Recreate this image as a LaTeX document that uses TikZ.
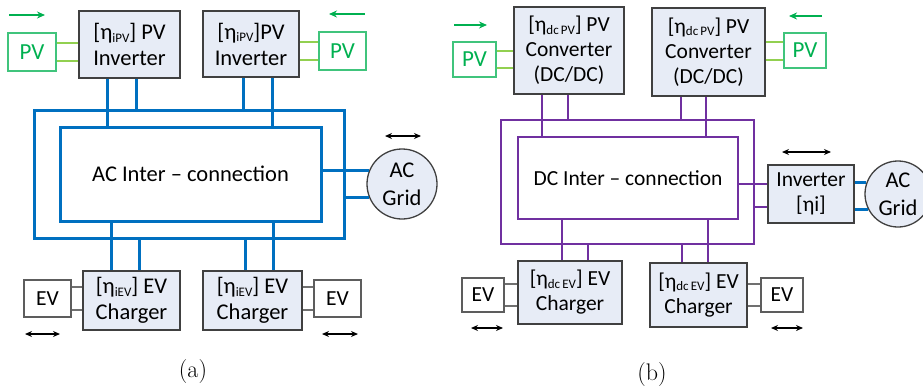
\documentclass[tikz,border=0pt]{standalone}
\usepackage{fontspec}
\newfontfamily\carlito{Carlito}
\usetikzlibrary{arrows.meta}
\definecolor{acblue}{RGB}{0,112,192}
\definecolor{dcpurple}{RGB}{112,48,160}
\definecolor{pvgreen}{RGB}{0,176,80}
\definecolor{pvline}{RGB}{146,208,80}
\definecolor{boxfill}{RGB}{231,236,246}
\definecolor{edge}{RGB}{64,64,64}
\newcommand{\effsub}[1]{{\fontsize{13}{13}\selectfont\raisebox{-2.5pt}{#1}}}
\begin{document}
\begin{tikzpicture}[x=1pt,y=-1pt,
  unit/.style={draw=edge,fill=boxfill,line width=1.5pt,inner sep=0pt,align=center,font=\carlito\fontsize{22.5}{26}\selectfont},
  unitb/.style={unit,font=\carlito\fontsize{21.5}{25}\selectfont},
  pvbox/.style={draw=pvgreen!75,line width=1.3pt,inner sep=0pt,text=pvgreen,font=\carlito\fontsize{23}{24}\selectfont},
  evbox/.style={draw=edge!85,line width=1.3pt,inner sep=0pt,font=\carlito\fontsize{21.5}{24}\selectfont},
  gridnode/.style={circle,draw=edge,fill=boxfill,line width=1.3pt,inner sep=0pt,align=center,font=\carlito\fontsize{22.5}{28}\selectfont},
  busbox/.style={draw=#1,line width=3pt,inner sep=0pt,font=\carlito\fontsize{22.5}{24}\selectfont},
  acwire/.style={acblue,line width=3pt},
  dcwire/.style={dcpurple,line width=2.7pt},
  pvwire/.style={pvline,line width=1.4pt},
  evwire/.style={edge!75,line width=1.3pt},
  flow/.style={-{Stealth[length=8pt,width=7pt]},pvgreen,line width=1.4pt},
  swap/.style={{Stealth[length=7pt,width=6pt]}-{Stealth[length=7pt,width=6pt]},black,line width=1.2pt}]
\useasboundingbox (0,0) rectangle (923,391);

% (a) AC inter-connection
\node[busbox=acblue,minimum width=310pt,minimum height=128pt] (outA) at (189,174) {};
\node[busbox=acblue,minimum width=261pt,minimum height=94pt] (inA) at (190.5,174) {AC Inter – connection\hspace{10pt}};

\node[unit,minimum width=101pt,minimum height=67pt] (invA1) at (129.5,44.5) {[η\effsub{iPV}] PV\\Inverter};
\node[unit,minimum width=96pt,minimum height=66pt] (invA2) at (251,44) {[η\effsub{iPV}]PV\\Inverter};
\node[pvbox,minimum width=48pt,minimum height=38pt] (pvA1) at (32,52) {PV};
\node[pvbox,minimum width=47pt,minimum height=38pt] (pvA2) at (342.5,51) {PV};
\node[unit,minimum width=97pt,minimum height=59pt] (chgA1) at (131.5,300.5) {[η\effsub{iEV}] EV\\Charger};
\node[unit,minimum width=99pt,minimum height=59pt] (chgA2) at (252.5,300.5) {[η\effsub{iEV}] EV\\Charger};
\node[evbox,minimum width=47pt,minimum height=37pt] (evA1) at (47.5,298.5) {EV};
\node[evbox,minimum width=47pt,minimum height=37pt] (evA2) at (337.5,298.5) {EV};

\draw[pvwire] (pvA1.east |- 0,43) -- (invA1.west |- 0,43);
\draw[pvwire] (pvA1.east |- 0,61) -- (invA1.west |- 0,61);
\draw[pvwire] (invA2.east |- 0,42) -- (pvA2.west |- 0,42);
\draw[pvwire] (invA2.east |- 0,60) -- (pvA2.west |- 0,60);
\draw[acwire] (invA1.south -| 107,0) -- (inA.north -| 107,0);
\draw[acwire] (invA1.south -| 136,0) -- (outA.north -| 136,0);
\draw[acwire] (invA2.south -| 243,0) -- (outA.north -| 243,0);
\draw[acwire] (invA2.south -| 272,0) -- (inA.north -| 272,0);
\draw[acwire] (inA.south -| 111,0) -- (chgA1.north -| 111,0);
\draw[acwire] (outA.south -| 139,0) -- (chgA1.north -| 139,0);
\draw[acwire] (outA.south -| 245,0) -- (chgA2.north -| 245,0);
\draw[acwire] (inA.south -| 273,0) -- (chgA2.north -| 273,0);
\draw[evwire] (evA1.east |- 0,287) -- (chgA1.west |- 0,287);
\draw[evwire] (evA1.east |- 0,310) -- (chgA1.west |- 0,310);
\draw[evwire] (chgA2.east |- 0,287) -- (evA2.west |- 0,287);
\draw[evwire] (chgA2.east |- 0,310) -- (evA2.west |- 0,310);

\node[gridnode,minimum size=70pt] (gridA) at (402,184) {AC\\Grid};
\draw[acwire] (inA.east |- gridA.158) -- (gridA.158);
\draw[acwire] (outA.east |- gridA.202) -- (gridA.202);

\draw[flow] (9,15) -- (45,15);
\draw[flow] (365,14) -- (329,14);
\draw[swap] (385,136) -- (421,136);
\draw[swap] (25,334) -- (60,334);
\draw[swap] (322,334) -- (358,334);
\node[font=\fontsize{24}{26}\selectfont] (capA) at (193,372) {(a)};

% (b) DC inter-connection
\node[busbox=dcpurple,line width=2.7pt,minimum width=253pt,minimum height=124pt] (outB) at (627.5,182) {};
\node[busbox=dcpurple,line width=2.7pt,minimum width=220pt,minimum height=82pt,font=\carlito\fontsize{21.5}{24}\selectfont] (inB) at (628,178) {DC Inter – connection\hspace{10pt}};

\node[unitb,minimum width=110pt,minimum height=87pt] (cnvB1) at (569,50.5) {[η\effsub{dc\,PV}] PV\\Converter\\(DC/DC)};
\node[unitb,minimum width=113pt,minimum height=88pt] (cnvB2) at (708.5,52) {[η\effsub{dc\,PV}] PV\\Converter\\(DC/DC)};
\node[pvbox,minimum width=43pt,minimum height=35pt] (pvB1) at (474.5,59.5) {PV};
\node[pvbox,minimum width=42pt,minimum height=35pt] (pvB2) at (805,50.5) {PV};
\node[unitb,minimum width=104pt,minimum height=63pt] (chgB1) at (570,292.5) {[η\effsub{dc\,EV}] EV\\Charger};
\node[unitb,minimum width=97pt,minimum height=64pt] (chgB2) at (698.5,295) {[η\effsub{dc\,EV}] EV\\Charger};
\node[evbox,minimum width=42pt,minimum height=34pt] (evB1) at (483,295) {EV};
\node[evbox,minimum width=42pt,minimum height=34pt] (evB2) at (782,295) {EV};
\node[unitb,minimum width=86pt,minimum height=58pt] (invB) at (811,194) {Inverter\\{}[η{}i]};

\draw[pvwire] (pvB1.east |- 0,51) -- (cnvB1.west |- 0,51);
\draw[pvwire] (pvB1.east |- 0,68) -- (cnvB1.west |- 0,68);
\draw[pvwire] (cnvB2.east |- 0,42) -- (pvB2.west |- 0,42);
\draw[pvwire] (cnvB2.east |- 0,60) -- (pvB2.west |- 0,60);
\draw[dcwire] (cnvB1.south -| 542,0) -- (inB.north -| 542,0);
\draw[dcwire] (cnvB1.south -| 568,0) -- (outB.north -| 568,0);
\draw[dcwire] (cnvB2.south -| 681,0) -- (outB.north -| 681,0);
\draw[dcwire] (cnvB2.south -| 706,0) -- (inB.north -| 706,0);
\draw[dcwire] (inB.south -| 562,0) -- (chgB1.north -| 562,0);
\draw[dcwire] (outB.south -| 588,0) -- (chgB1.north -| 588,0);
\draw[dcwire] (outB.south -| 682,0) -- (chgB2.north -| 682,0);
\draw[dcwire] (inB.south -| 708,0) -- (chgB2.north -| 708,0);
\draw[dcwire] (inB.east |- 0,184) -- (invB.west |- 0,184);
\draw[dcwire] (outB.east |- 0,207) -- (invB.west |- 0,207);
\draw[evwire] (evB1.east |- 0,284) -- (chgB1.west |- 0,284);
\draw[evwire] (evB1.east |- 0,306) -- (chgB1.west |- 0,306);
\draw[evwire] (chgB2.east |- 0,284) -- (evB2.west |- 0,284);
\draw[evwire] (chgB2.east |- 0,306) -- (evB2.west |- 0,306);

\node[gridnode,minimum size=66pt] (gridB) at (898,194) {AC\\Grid};
\draw[acwire] (invB.east |- gridB.160) -- (gridB.160);
\draw[acwire] (invB.east |- gridB.207) -- (gridB.207);

\draw[flow] (454,25) -- (487,25);
\draw[flow] (822,16) -- (789,16);
\draw[swap] (782,152) -- (831,152);
\draw[swap] (471,328) -- (503,328);
\draw[swap] (771,328) -- (803,328);
\node[font=\fontsize{24}{26}\selectfont] (capB) at (652,375) {(b)};
\end{tikzpicture}
\end{document}
